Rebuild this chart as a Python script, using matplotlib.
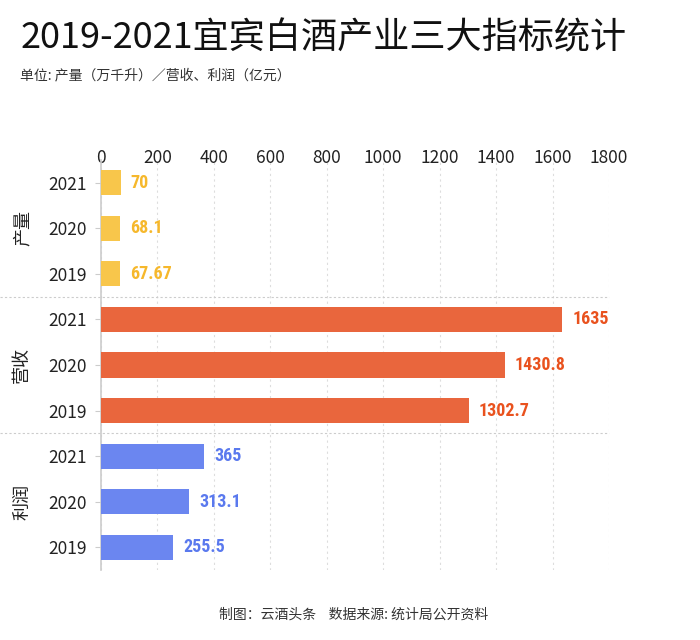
import matplotlib.pyplot as plt
import matplotlib.transforms as mtransforms

plt.rcParams['font.family'] = ['Noto Sans CJK SC', 'DejaVu Sans']

groups = ["产量", "营收", "利润"]
years = ["2021", "2020", "2019"]
output = [70, 68.1, 67.67]
revenue = [1635, 1430.8, 1302.7]
profit = [365, 313.1, 255.5]
labels_txt = [["70", "68.1", "67.67"], ["1635", "1430.8", "1302.7"], ["365", "313.1", "255.5"]]
bar_colors = ["#F8C64B", "#E9663D", "#6B86F0"]
text_colors = ["#F6B82C", "#E9521E", "#5A79EE"]
series = [output, revenue, profit]

fig = plt.figure(figsize=(7, 6.4), dpi=100)
ax = fig.add_axes([0.1443, 0.1094, 0.7257, 0.6406])

pos = 0
for g in range(3):
    for i in range(3):
        v = series[g][i]
        ax.barh(pos, v, height=0.55, color=bar_colors[g], zorder=3)
        ax.text(v + 35, pos, labels_txt[g][i], va='center', ha='left',
                color=text_colors[g], fontsize=13, fontweight='bold',
                family=['Roboto Condensed', 'Roboto', 'DejaVu Sans'])
        pos += 1

ax.set_ylim(8.5, -0.5)
ax.set_xlim(0, 1800)
ax.set_yticks(range(9))
ax.set_yticklabels(years * 3, fontsize=12.5, color='#222222')
ax.set_xticks(range(0, 1801, 200))
ax.xaxis.tick_top()
ax.tick_params(axis='x', length=0, labelsize=12.5, labelcolor='#222222', pad=-5)
ax.tick_params(axis='y', length=4, color='#cccccc', pad=6)
ax.grid(axis='x', linestyle=(0, (2, 3)), color='#dddddd', linewidth=0.8, zorder=0)

for s in ['top', 'right', 'bottom']:
    ax.spines[s].set_visible(False)
ax.spines['left'].set_color('#cccccc')
ax.spines['left'].set_linewidth(1.2)

trans = mtransforms.blended_transform_factory(ax.transAxes, ax.transData)
for y in [2.5, 5.5]:
    ax.plot([-0.199, 1.0], [y, y], transform=trans, clip_on=False,
            linestyle=(0, (2, 2)), color='#cccccc', linewidth=0.8)
for g in range(3):
    ax.text(-0.155, g * 3 + 1, groups[g], transform=trans, rotation=90,
            va='center', ha='center', fontsize=13, color='#222222')

fig.text(0.029, 0.94, "2019-2021宜宾白酒产业三大指标统计", fontsize=26,
         color='#111111', va='center', ha='left')
fig.text(0.029, 0.882, "单位: 产量（万千升）／营收、利润（亿元）", fontsize=10,
         color='#333333', va='center', ha='left')
fig.text(0.505, 0.04, "制图：云酒头条    数据来源: 统计局公开资料", fontsize=10,
         color='#333333', va='center', ha='center')

fig.savefig("out.png", dpi=100)
